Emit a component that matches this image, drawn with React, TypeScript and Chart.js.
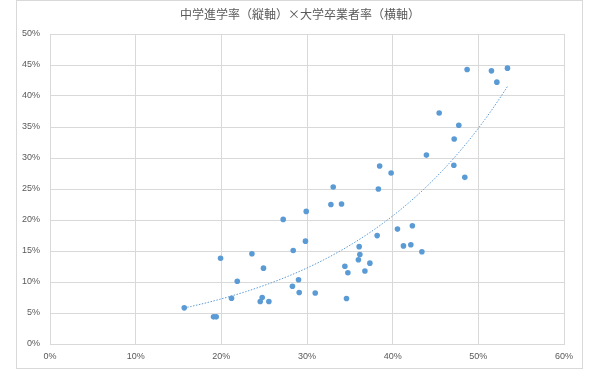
import React, { useEffect, useRef } from "react";
import { Chart, registerables } from "chart.js";

Chart.register(...registerables);

const TITLE = "中学進学率（縦軸）×大学卒業者率（横軸）";

// 横軸: 大学卒業者率 (%)
const graduateRate = [
  15.67, 19.09, 19.4, 19.91, 21.19, 21.86, 23.57, 24.92, 24.77, 24.54,
  25.55, 27.22, 28.39, 29.82, 29.91, 29.01, 28.3, 29.09, 30.96, 32.79,
  33.06, 34.03, 34.61, 34.42, 34.77, 36.09, 36.17, 36.0, 36.76, 37.34,
  38.19, 38.33, 38.48, 39.82, 40.56, 41.26, 42.12, 42.3, 43.41, 43.94,
  45.43, 47.14, 47.18, 47.72, 48.42, 48.69, 51.53, 52.16, 53.4,
];

// 縦軸: 中学進学率 (%)
const enrollmentRate = [
  5.83, 4.38, 4.38, 13.84, 7.38, 10.13, 14.56, 12.23, 7.5, 6.85,
  6.85, 20.1, 15.09, 16.59, 21.39, 10.36, 9.32, 8.3, 8.22, 22.49,
  25.32, 22.57, 7.33, 12.55, 11.49, 15.7, 14.44, 13.59, 11.78, 13.04,
  17.48, 24.99, 28.71, 27.58, 18.53, 15.82, 16.01, 19.08, 14.88, 30.47,
  37.27, 28.82, 33.07, 35.28, 26.88, 44.28, 44.06, 42.23, 44.49,
];

const xTickValues = [0, 10, 20, 30, 40, 50, 60];
const yTickValues = [0, 5, 10, 15, 20, 25, 30, 35, 40, 45, 50];

const TEXT_COLOR = "#595959";
const GRID_COLOR = "#d9d9d9";
const POINT_COLOR = "#5b9bd5";

export default function App() {
  const canvasRef = useRef<HTMLCanvasElement>(null);

  useEffect(() => {
    const canvas = canvasRef.current;
    if (!canvas) return;

    const points = graduateRate.map((x, i) => ({ x, y: enrollmentRate[i] }));

    // Exponential trendline (least squares on ln y)
    const n = points.length;
    let sx = 0, sy = 0, sxx = 0, sxy = 0;
    for (const p of points) {
      const ly = Math.log(p.y);
      sx += p.x;
      sy += ly;
      sxx += p.x * p.x;
      sxy += p.x * ly;
    }
    const b = (n * sxy - sx * sy) / (n * sxx - sx * sx);
    const lnA = (sy - b * sx) / n;
    const xmin = Math.min(...graduateRate);
    const xmax = Math.max(...graduateRate);
    const steps = 100;
    const trend = Array.from({ length: steps + 1 }, (_, i) => {
      const x = xmin + ((xmax - xmin) * i) / steps;
      return { x, y: Math.exp(lnA + b * x) };
    });

    const tickFont = { family: "'Liberation Sans', Arial, sans-serif", size: 9 };

    const chart = new Chart(canvas, {
      type: "scatter",
      data: {
        datasets: [
          {
            label: "data",
            data: points,
            backgroundColor: POINT_COLOR,
            borderColor: POINT_COLOR,
            borderWidth: 0,
            pointRadius: 2.8,
            pointHoverRadius: 2.8,
          },
          {
            type: "line",
            label: "trend",
            data: trend,
            borderColor: POINT_COLOR,
            borderWidth: 1,
            borderDash: [1.5, 1.5],
            pointRadius: 0,
            fill: false,
            tension: 0,
          } as any,
        ],
      },
      options: {
        responsive: false,
        animation: false,
        events: [],
        layout: { padding: { left: 0, right: 0, top: 0, bottom: 0 } },
        plugins: {
          legend: { display: false },
          tooltip: { enabled: false },
          title: {
            display: true,
            text: TITLE,
            color: TEXT_COLOR,
            font: {
              family: "'Noto Sans CJK JP', 'Noto Sans', sans-serif",
              size: 12,
              weight: "normal",
              lineHeight: 1.2,
            },
            padding: { top: 7, bottom: 12.6 },
          },
        },
        scales: {
          x: {
            type: "linear",
            min: 0,
            max: 60,
            afterBuildTicks: (s: any) => {
              s.ticks = xTickValues.map((v) => ({ value: v }));
            },
            afterFit: (s: any) => {
              s.height = 26;
            },
            ticks: {
              color: TEXT_COLOR,
              font: tickFont,
              padding: 7,
              maxRotation: 0,
              callback: (v: any) => `${v}%`,
            },
            grid: { color: GRID_COLOR, lineWidth: 1, drawTicks: false },
            border: { color: GRID_COLOR },
          },
          y: {
            type: "linear",
            min: 0,
            max: 50,
            afterBuildTicks: (s: any) => {
              s.ticks = yTickValues.map((v) => ({ value: v }));
            },
            afterFit: (s: any) => {
              s.width = 50;
            },
            ticks: {
              color: TEXT_COLOR,
              font: tickFont,
              padding: 10,
              callback: (v: any) => `${v}%`,
            },
            grid: { color: GRID_COLOR, lineWidth: 1, drawTicks: false },
            border: { color: GRID_COLOR },
          },
          spacer: {
            type: "linear",
            position: "right",
            display: true,
            min: 0,
            max: 1,
            afterFit: (s: any) => {
              s.width = 36;
            },
            ticks: { display: false },
            grid: { display: false, drawTicks: false },
            border: { display: false },
          },
        },
      },
    });

    return () => chart.destroy();
  }, []);

  return (
    <div
      style={{
        position: "absolute",
        left: 0,
        top: 0,
        width: 600,
        height: 370,
        background: "#fff",
      }}
    >
      <canvas
        ref={canvasRef}
        width={600}
        height={370}
        style={{ position: "absolute", left: 0, top: 0, width: 600, height: 370 }}
      />
      <div
        style={{
          position: "absolute",
          left: 16,
          top: 0,
          width: 567,
          height: 369,
          border: `1px solid ${GRID_COLOR}`,
          boxSizing: "border-box",
          pointerEvents: "none",
        }}
      />
    </div>
  );
}
